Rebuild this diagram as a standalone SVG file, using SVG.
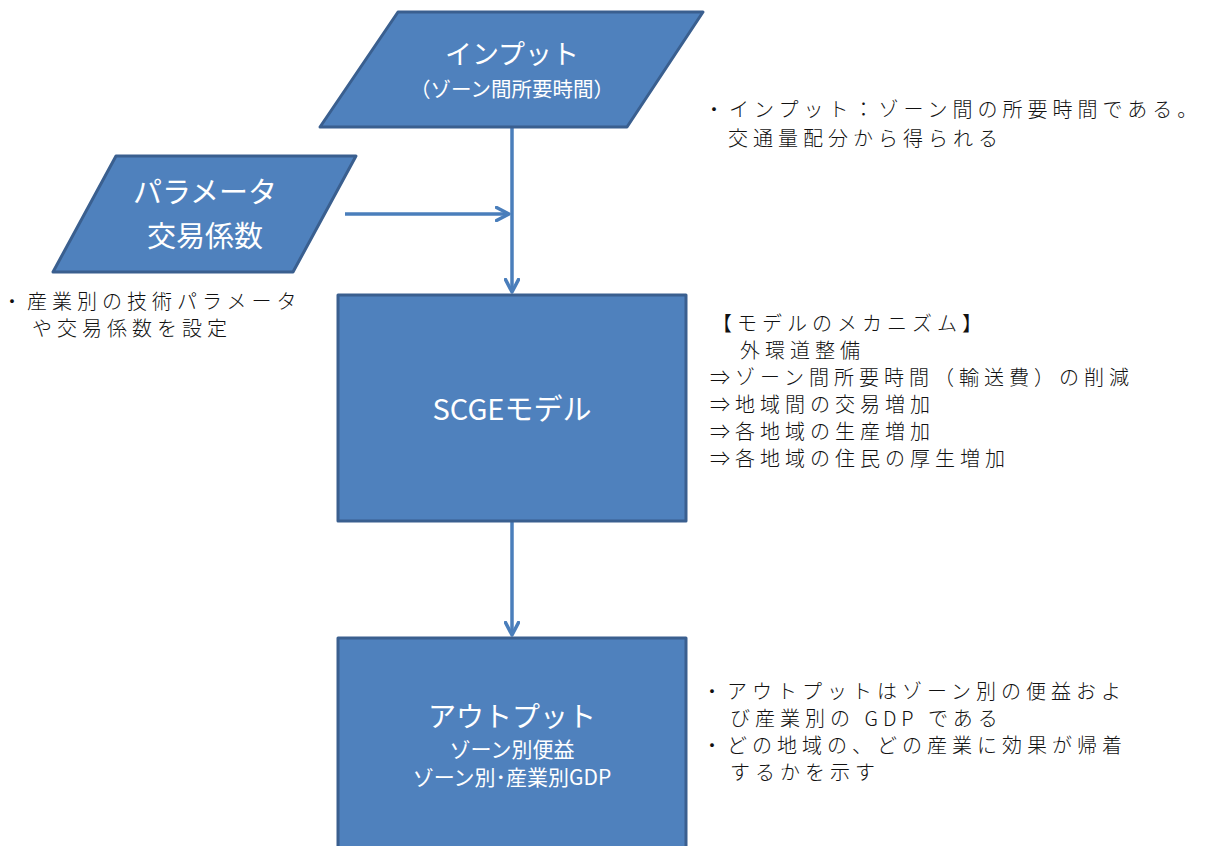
<svg xmlns="http://www.w3.org/2000/svg" width="1216" height="846" viewBox="0 0 1216 846">
<style>
.shape{fill:#4f81bd;stroke:#3a5f8f;stroke-width:3;stroke-linejoin:round}
.lbl{fill:#ffffff;font-family:"Noto Sans CJK JP","Noto Sans",sans-serif;text-anchor:middle}
.note{fill:#111111;font-family:"Noto Sans CJK JP","Noto Sans",sans-serif;font-size:20px;letter-spacing:5px;font-weight:300}
.conn{stroke:#4a7ebb;stroke-width:3.5;fill:none}
</style>
<defs>
<marker id="arr" viewBox="0 0 16 16" refX="14.5" refY="8" markerWidth="16" markerHeight="16" markerUnits="userSpaceOnUse" orient="auto">
<path d="M2,1.5 L14.5,8 L2,14.5" fill="none" stroke="#4a7ebb" stroke-width="3.5" stroke-linecap="round" stroke-linejoin="round"/>
</marker>
</defs>
<g id="connectors">
<path class="conn" d="M512,127 L512,292" marker-end="url(#arr)"/>
<path class="conn" d="M345,214 L509,214" marker-end="url(#arr)"/>
<path class="conn" d="M512,521 L512,635" marker-end="url(#arr)"/>
</g>
<g id="input">
<polygon class="shape" points="398,12 703,12 627,127 320,127"/>
<text class="lbl" x="512" y="64" font-size="27">インプット</text>
<text class="lbl" x="512" y="97" font-size="20.5">（ゾーン間所要時間）</text>
</g>
<g id="param">
<polygon class="shape" points="116,156 356,156 293,272 53,272"/>
<text class="lbl" x="205" y="203" font-size="29">パラメータ</text>
<text class="lbl" x="205" y="247" font-size="29">交易係数</text>
</g>
<g id="scge">
<rect class="shape" x="338" y="295" width="348" height="226"/>
<text class="lbl" x="512" y="420" font-size="29">SCGEモデル</text>
</g>
<g id="output">
<rect class="shape" x="338" y="638" width="348" height="230"/>
<text class="lbl" x="512" y="727" font-size="28">アウトプット</text>
<text class="lbl" x="512" y="757" font-size="21">ゾーン別便益</text>
<text class="lbl" x="512" y="785" font-size="21">ゾーン別･産業別GDP</text>
</g>
<g id="note-input">
<text class="note" x="704" y="117">・インプット：ゾーン間の所要時間である。</text>
<text class="note" x="728" y="146">交通量配分から得られる</text>
</g>
<g id="note-param">
<text class="note" x="2" y="309">・産業別の技術パラメータ</text>
<text class="note" x="32" y="336">や交易係数を設定</text>
</g>
<g id="note-mech">
<text class="note" x="712" y="331">【モデルのメカニズム】</text>
<text class="note" x="740" y="358">外環道整備</text>
<text class="note" x="710" y="385">⇒ゾーン間所要時間（輸送費）の削減</text>
<text class="note" x="710" y="412">⇒地域間の交易増加</text>
<text class="note" x="710" y="439">⇒各地域の生産増加</text>
<text class="note" x="710" y="466">⇒各地域の住民の厚生増加</text>
</g>
<g id="note-output">
<text class="note" x="702" y="699">・アウトプットはゾーン別の便益およ</text>
<text class="note" x="730" y="726">び産業別の GDP である</text>
<text class="note" x="702" y="753">・どの地域の、どの産業に効果が帰着</text>
<text class="note" x="730" y="780">するかを示す</text>
</g>
</svg>
